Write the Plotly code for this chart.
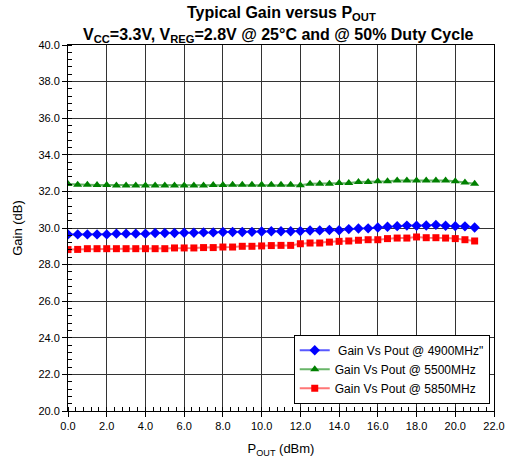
import plotly.graph_objects as go

pout = [i * 0.5 for i in range(43)]

gain_4900 = [29.65, 29.65, 29.65, 29.65, 29.65, 29.69, 29.69, 29.69, 29.69, 29.73,
             29.73, 29.73, 29.74, 29.74, 29.76, 29.76, 29.78, 29.78, 29.78, 29.79,
             29.81, 29.82, 29.82, 29.82, 29.83, 29.86, 29.87, 29.89, 29.88, 29.94,
             29.97, 29.98, 30.03, 30.07, 30.10, 30.13, 30.12, 30.14, 30.17, 30.12,
             30.10, 30.09, 30.03]

gain_5500 = [32.40, 32.36, 32.36, 32.35, 32.35, 32.32, 32.32, 32.32, 32.32, 32.32,
             32.32, 32.32, 32.32, 32.32, 32.32, 32.35, 32.35, 32.36, 32.36, 32.36,
             32.36, 32.36, 32.36, 32.36, 32.34, 32.42, 32.42, 32.42, 32.46, 32.46,
             32.51, 32.51, 32.55, 32.55, 32.60, 32.60, 32.60, 32.60, 32.60, 32.60,
             32.55, 32.48, 32.42]

gain_5850 = [28.82, 28.83, 28.87, 28.87, 28.87, 28.87, 28.87, 28.87, 28.87, 28.87,
             28.87, 28.91, 28.91, 28.91, 28.93, 28.93, 28.96, 28.96, 29.00, 29.00,
             29.02, 29.04, 29.05, 29.05, 29.14, 29.18, 29.18, 29.23, 29.27, 29.29,
             29.33, 29.36, 29.36, 29.42, 29.45, 29.45, 29.51, 29.47, 29.47, 29.45,
             29.42, 29.36, 29.29]

series_names = [' Gain Vs Pout @ 4900MHz"', "Gain Vs Pout @ 5500MHz", "Gain Vs Pout @ 5850MHz"]

title_line1 = "<b>Typical Gain versus P<sub>OUT</sub></b>"
title_line2 = "<b>V<sub>CC</sub>=3.3V, V<sub>REG</sub>=2.8V @ 25°C and @ 50% Duty Cycle</b>"

fig = go.Figure()
fig.add_trace(go.Scatter(
    x=pout, y=gain_4900, name=series_names[0], mode="lines+markers",
    line=dict(color="rgba(60,60,255,0.85)", width=2),
    marker=dict(symbol="diamond", size=8, color="#0000FF")))
fig.add_trace(go.Scatter(
    x=pout, y=gain_5500, name=series_names[1], mode="lines+markers",
    line=dict(color="rgba(40,150,40,0.7)", width=2),
    marker=dict(symbol="triangle-up", size=8, color="#008000")))
fig.add_trace(go.Scatter(
    x=pout, y=gain_5850, name=series_names[2], mode="lines+markers",
    line=dict(color="rgba(255,60,60,0.7)", width=2),
    marker=dict(symbol="square", size=7, color="#FF0000")))

font_family = "Liberation Sans, Arial, sans-serif"

fig.update_layout(
    width=506, height=462,
    margin=dict(l=68, r=12, t=45, b=51, autoexpand=False),
    paper_bgcolor="white", plot_bgcolor="white",
    font=dict(family=font_family, color="black", size=11),
    showlegend=True,
    legend=dict(
        x=0.99, y=0.02, xanchor="right", yanchor="bottom",
        bgcolor="white", bordercolor="black", borderwidth=1,
        font=dict(family=font_family, size=12, color="black"),
        tracegroupgap=0, itemwidth=30),
    annotations=[
        dict(text=title_line1, x=0.5, y=1.087, xref="paper", yref="paper",
             xanchor="center", yanchor="middle", showarrow=False,
             font=dict(family=font_family, size=16, color="black")),
        dict(text=title_line2, x=0.495, y=1.027, xref="paper", yref="paper",
             xanchor="center", yanchor="middle", showarrow=False,
             font=dict(family=font_family, size=16, color="black")),
    ],
)

fig.update_xaxes(
    range=[0, 22], dtick=2, tick0=0, tickformat=".1f", automargin=False,
    showgrid=True, gridcolor="#333333", gridwidth=1,
    showline=True, linecolor="black", linewidth=1, mirror=True,
    ticks="outside", ticklen=5, tickcolor="black",
    minor=dict(dtick=0.4, tick0=0, ticks="inside", ticklen=4, tickcolor="black", showgrid=False),
    tickfont=dict(size=11, family=font_family, color="black"),
    title=dict(text="P<sub>OUT</sub> (dBm)", font=dict(size=13, family=font_family), standoff=12),
    zeroline=False,
)
fig.update_yaxes(
    range=[20, 40], dtick=2, tick0=20, tickformat=".1f", automargin=False,
    showgrid=True, gridcolor="#333333", gridwidth=1,
    showline=True, linecolor="black", linewidth=1, mirror=True,
    ticks="outside", ticklen=5, tickcolor="black",
    minor=dict(dtick=0.4, tick0=20, ticks="inside", ticklen=4, tickcolor="black", showgrid=False),
    tickfont=dict(size=11, family=font_family, color="black"),
    title=dict(text="Gain (dB)", font=dict(size=13, family=font_family), standoff=12),
    zeroline=False,
)

fig.write_html("out.html")
